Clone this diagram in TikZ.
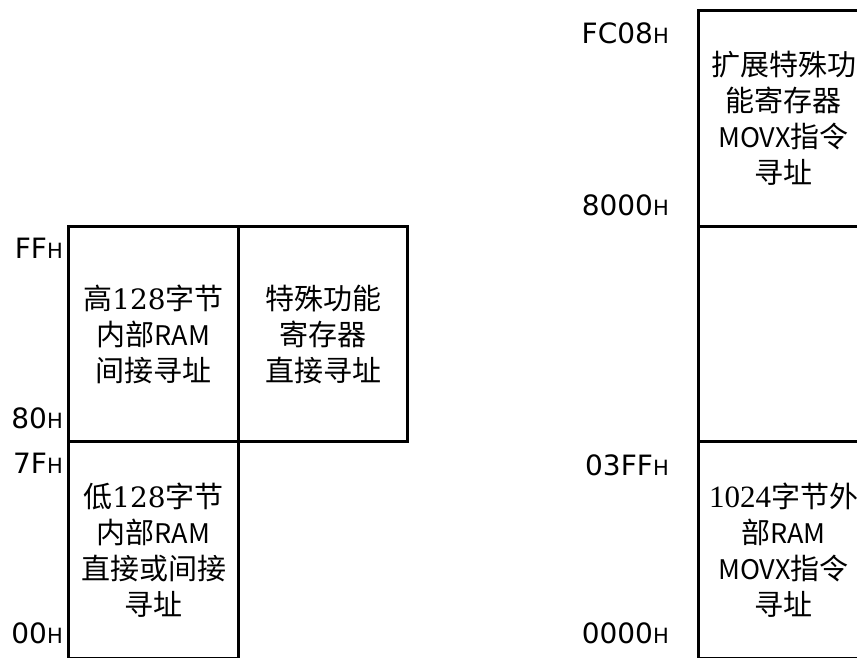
\documentclass[tikz,border=0pt]{standalone}
\usepackage{fontspec}
\setmainfont{Noto Sans CJK SC}
\newfontfamily\cjk{Noto Sans CJK SC}
\newfontfamily\dvsans{DejaVu Sans}
\newfontfamily\dvserif{DejaVu Serif}
\newfontfamily\libserif{Liberation Serif}
\newcommand\smallH{{\fontsize{21}{21}\selectfont H}}
\newcommand\lat[1]{{\fontsize{27}{36}\selectfont #1}}
\newcommand\dga[1]{{\dvserif\fontsize{28}{36}\selectfont #1}}
\newcommand\dgb[1]{{\libserif\fontsize{31}{36}\selectfont #1}}
\begin{document}
\begin{tikzpicture}[x=1pt,y=-1pt,
  box/.style={draw=black,line width=3pt,rectangle,inner sep=0pt,anchor=north west,
    align=center,font=\cjk\fontsize{29}{36}\selectfont},
  addr/.style={anchor=east,inner sep=0pt,font=\dvsans\fontsize{28}{28}\selectfont}]
\useasboundingbox (0,0) rectangle (857,658);
% left column
\node[box,minimum width=170pt,minimum height=215pt] (hi) at (67,225)
  {高\dga{128}字节\\内部\lat{RAM}\\间接寻址};
\node[box,minimum width=169pt,minimum height=215pt] (sfr) at (237,225)
  {特殊功能\\寄存器\\直接寻址};
\node[box,minimum width=170pt,minimum height=217pt] (lo) at (67,440)
  {低\dga{128}字节\\内部\lat{RAM}\\直接或间接\\寻址};
% right column
\node[box,minimum width=170pt,minimum height=216pt] (esfr) at (697,9)
  {扩展特殊功\\能寄存器\\\lat{MOVX}指令\\寻址};
\node[box,minimum width=170pt,minimum height=215pt] (gap) at (697,225) {};
\node[box,minimum width=170pt,minimum height=217pt] (xram) at (697,440)
  {\dgb{1024}字节外\\部\lat{RAM}\\\lat{MOVX}指令\\寻址};
% address labels
\node[addr] (a1) at (63,248) {FF\smallH};
\node[addr] (a2) at (63,418) {80\smallH};
\node[addr] (a3) at (63,463) {7F\smallH};
\node[addr] (a4) at (63,633) {00\smallH};
\node[addr] (b1) at (669,33) {FC08\smallH};
\node[addr] (b2) at (669,205) {8000\smallH};
\node[addr] (b3) at (669,465) {03FF\smallH};
\node[addr] (b4) at (669,633) {0000\smallH};
\end{tikzpicture}
\end{document}
